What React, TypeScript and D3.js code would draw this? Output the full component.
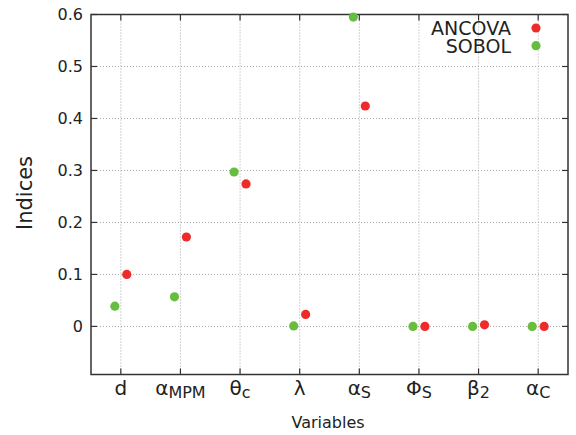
import React from "react";
import * as d3 from "d3";

// Sensitivity indices per input variable
const variableNames = ["d", "α", "θ", "λ", "α", "Φ", "β", "α"];
const variableSubs = ["", "MPM", "c", "", "S", "S", "2", "C"];
const sobolValues = [0.039, 0.057, 0.297, 0.001, 0.595, 0.0, 0.0, 0.0];
const ancovaValues = [0.1, 0.172, 0.274, 0.023, 0.424, 0.0, 0.003, 0.0];
const yTicks = [0, 0.1, 0.2, 0.3, 0.4, 0.5, 0.6];

const W = 576;
const H = 435;
const left = 91;
const right = 568;
const top = 14.5;
const bottom = 374.5;

const RED = "#ee2a2a";
const GREEN = "#67bd3d";
const FONT = "DejaVu Sans, sans-serif";

export default function App() {
  const positions = variableNames.map((_, i) => i + 1);
  const x = d3.scaleLinear().domain([0.5, 8.5]).range([left, right]);
  const y = d3.scaleLinear().domain([-0.0925, 0.6]).range([bottom, top]);
  const offset = 0.1;
  const tickLen = 6;

  return (
    <div style={{ position: "absolute", left: 0, top: 0 }}>
      <svg width={W} height={H} style={{ display: "block", background: "#fff" }}>
        {/* grid */}
        <g stroke="#a8a8a8" strokeWidth={1} strokeDasharray="1,2">
          {yTicks.map((t) => (
            <line key={"gy" + t} x1={left} x2={right} y1={y(t)} y2={y(t)} />
          ))}
          {positions.map((p) => (
            <line key={"gx" + p} x1={x(p)} x2={x(p)} y1={top} y2={bottom} />
          ))}
        </g>
        {/* ticks, mirrored on all sides */}
        <g stroke="#333" strokeWidth={1.2}>
          {yTicks.map((t) => (
            <g key={"ty" + t}>
              <line x1={left} x2={left + tickLen} y1={y(t)} y2={y(t)} />
              <line x1={right} x2={right - tickLen} y1={y(t)} y2={y(t)} />
            </g>
          ))}
          {positions.map((p) => (
            <g key={"tx" + p}>
              <line x1={x(p)} x2={x(p)} y1={bottom} y2={bottom - tickLen} />
              <line x1={x(p)} x2={x(p)} y1={top} y2={top + tickLen} />
            </g>
          ))}
        </g>
        <rect
          x={left}
          y={top}
          width={right - left}
          height={bottom - top}
          fill="none"
          stroke="#333"
          strokeWidth={1.5}
        />
        {/* y tick labels */}
        <g fontFamily={FONT} fontSize={16} fill="#222" textAnchor="end">
          {yTicks.map((t) => (
            <text key={"ly" + t} x={83} y={y(t)} dy="0.36em">
              {d3.format("~g")(t)}
            </text>
          ))}
        </g>
        {/* category labels */}
        <g fontFamily={FONT} fill="#222" textAnchor="middle">
          {positions.map((p, i) => (
            <text key={"lx" + p} x={x(p)} y={395} fontSize={20}>
              {variableNames[i]}
              {variableSubs[i] && (
                <tspan fontSize={16} dy={3}>
                  {variableSubs[i]}
                </tspan>
              )}
            </text>
          ))}
        </g>
        {/* axis titles */}
        <text
          x={328}
          y={428}
          fontFamily={FONT}
          fontSize={16}
          fill="#222"
          textAnchor="middle"
        >
          Variables
        </text>
        <text
          transform={`translate(32,${193}) rotate(-90)`}
          fontFamily={FONT}
          fontSize={21}
          fill="#222"
          textAnchor="middle"
        >
          Indices
        </text>
        {/* points */}
        <g>
          {sobolValues.map((v, i) => (
            <circle key={"s" + i} cx={x(positions[i] - offset)} cy={y(v)} r={4.6} fill={GREEN} />
          ))}
          {ancovaValues.map((v, i) => (
            <circle key={"a" + i} cx={x(positions[i] + offset)} cy={y(v)} r={4.6} fill={RED} />
          ))}
        </g>
        {/* legend */}
        <g fontFamily={FONT} fontSize={19} fill="#222" textAnchor="end">
          <text x={511} y={35}>ANCOVA</text>
          <text x={511} y={53}>SOBOL</text>
        </g>
        <circle cx={536} cy={28} r={4.6} fill={RED} />
        <circle cx={536} cy={45.7} r={4.6} fill={GREEN} />
      </svg>
    </div>
  );
}
